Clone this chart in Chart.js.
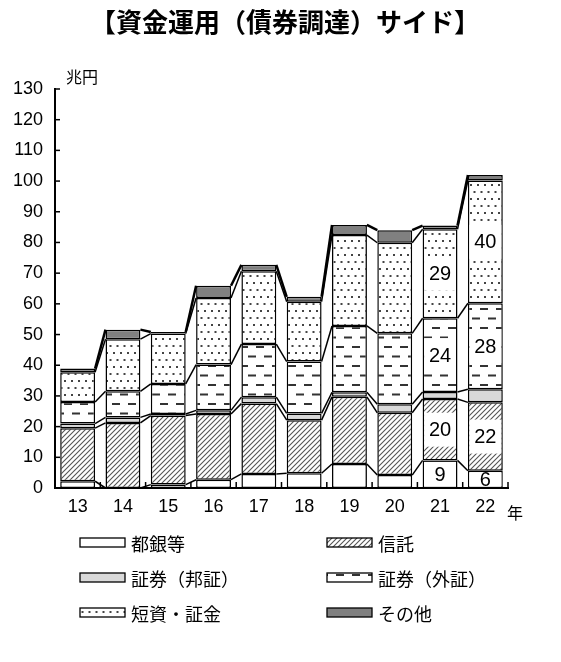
<!DOCTYPE html>
<html><head><meta charset="utf-8">
<script src="https://cdn.jsdelivr.net/npm/chart.js@4/dist/chart.umd.min.js"></script>
<style>html,body{margin:0;padding:0;background:#fff}</style>
</head><body>
<canvas id="c" width="561" height="662" style="width:561px;height:662px"></canvas>
<script>
const years = ['13','14','15','16','17','18','19','20','21','22'];
const toginTo   = [2.2, 0.0, 1.1, 2.7, 4.6, 4.8, 7.8, 4.2, 9.0, 5.6];   // 都銀等
const shintaku  = [17.3,21.2,22.5,21.4,22.9,17.3,21.9,20.3,20.0,22.3]; // 信託
const shokenHo  = [1.5, 1.8, 0.5, 1.2, 2.1, 2.2, 1.5, 2.8, 2.3, 4.3];   // 証券（邦証）
const shokenGai = [7.0, 8.5, 9.8,14.9,17.3,16.9,21.6,23.1,24.0,28.0];   // 証券（外証）
const tanshi    = [9.7,17.0,16.4,21.7,23.7,19.5,29.6,29.5,29.0,40.0];   // 短資・証金
const sonota    = [1.2, 3.1, 0.5, 4.0, 2.1, 1.6, 3.3, 4.1, 1.2, 1.8];   // その他
const seriesNames = ['都銀等','信託','証券（邦証）','証券（外証）','短資・証金','その他'];
const yTicks = [0,10,20,30,40,50,60,70,80,90,100,110,120,130];
const labeledBars = [8, 9];          // bars with value labels
const labeledSeries = [0, 1, 3, 4];  // series with value labels

function pat(type){
  const c=document.createElement('canvas');
  let w=6,h=6;
  if(type==='hatch'){w=5;h=5;}
  if(type==='dash'){w=16;h=19;}
  if(type==='dot'){w=7;h=14;}
  c.width=w;c.height=h;
  const g=c.getContext('2d');
  g.fillStyle='#fff';g.fillRect(0,0,w,h);
  if(type==='hatch'){
    g.strokeStyle='#555';g.lineWidth=1.1;
    g.beginPath();
    g.moveTo(-1,w+1);g.lineTo(w+1,-1);
    g.moveTo(-1,1);g.lineTo(1,-1);
    g.moveTo(w-1,h+1);g.lineTo(w+1,h-1);
    g.stroke();
  } else if(type==='dash'){
    g.fillStyle='#333';
    g.fillRect(0,4,8,2);
    g.fillRect(8,13.5,8,2);
  } else if(type==='dot'){
    g.fillStyle='#444';
    g.fillRect(1,2,2,2);
    g.fillRect(4.5,9,2,2);
  }
  return g.createPattern(c,'repeat');
}
const fills=['#ffffff',pat('hatch'),'#d9d9d9',pat('dash'),pat('dot'),'#808080'];
const seriesData=[toginTo,shintaku,shokenHo,shokenGai,tanshi,sonota];

const CJK='"Noto Sans CJK JP","Noto Sans",sans-serif';
const NUM='"Liberation Sans",Arial,sans-serif';

const deco={
  id:'deco',
  afterDatasetsDraw(chart){
    const {ctx,scales:{x,y},chartArea:a}=chart;
    ctx.save();
    // connecting lines
    for(let d=0;d<seriesData.length;d++){
      const meta=chart.getDatasetMeta(d);
      ctx.strokeStyle='#000';
      ctx.lineWidth=(d===seriesData.length-1)?2.5:1.5;
      for(let i=0;i<years.length-1;i++){
        const e1=meta.data[i],e2=meta.data[i+1];
        ctx.beginPath();
        ctx.moveTo(e1.x+e1.width/2,e1.y);
        ctx.lineTo(e2.x-e2.width/2,e2.y);
        ctx.stroke();
      }
    }
    // value labels
    ctx.font='20px '+NUM;ctx.textAlign='center';ctx.textBaseline='middle';
    labeledBars.forEach(i=>{
      labeledSeries.forEach(d=>{
        const e=chart.getDatasetMeta(d).data[i];
        const top=e.y,bot=e.base;
        const hgt=Math.min(34,bot-top-3);
        const mid=(top+bot)/2;
        ctx.fillStyle='#fff';
        ctx.fillRect(e.x-e.width/2+1.5,mid-hgt/2,e.width-3,hgt);
        ctx.fillStyle='#000';
        ctx.fillText(String(Math.round(seriesData[d][i])),e.x,mid+1);
      });
    });
    // inward ticks
    ctx.strokeStyle='#000';ctx.lineWidth=1.5;
    yTicks.forEach(v=>{
      const py=y.getPixelForValue(v);
      ctx.beginPath();ctx.moveTo(a.left,py);ctx.lineTo(a.left+5,py);ctx.stroke();
    });
    const step=x.getPixelForValue(1)-x.getPixelForValue(0);
    for(let i=1;i<=years.length;i++){
      const px=x.getPixelForValue(i)-step/2;
      ctx.beginPath();ctx.moveTo(px,a.bottom);ctx.lineTo(px,a.bottom-6);ctx.stroke();
    }
    ctx.restore();
  },
  afterDraw(chart){
    const {ctx,chartArea:a}=chart;
    ctx.save();
    ctx.fillStyle='#000';
    ctx.font='bold 26px '+CJK;ctx.textAlign='center';ctx.textBaseline='middle';
    ctx.fillText('【資金運用（債券調達）サイド】',285,22);
    ctx.font='16px '+CJK;ctx.textAlign='left';
    ctx.fillText('兆円',66,77);
    ctx.fillText('年',507,513);
    // legend
    const cols=[80,327],rows=[543,578,613];
    ctx.font='18px '+CJK;ctx.textBaseline='middle';
    seriesNames.forEach((n,k)=>{
      const cx=cols[k%2],cy=rows[Math.floor(k/2)];
      ctx.fillStyle=fills[k];
      ctx.fillRect(cx,cy-5,45,9);
      ctx.strokeStyle='#000';ctx.lineWidth=1.3;
      ctx.strokeRect(cx,cy-5,45,9);
      ctx.fillStyle='#000';
      ctx.fillText(n,cx+51,cy+1);
    });
    ctx.restore();
  }
};

new Chart(document.getElementById('c'),{
  type:'bar',
  data:{
    labels:years,
    datasets:seriesData.map((d,k)=>({
      label:seriesNames[k],data:d,backgroundColor:fills[k],
      borderColor:'#000',borderWidth:1.5,borderSkipped:false,
      barPercentage:0.77,categoryPercentage:1.0
    }))
  },
  options:{
    responsive:false,animation:false,devicePixelRatio:1,
    layout:{padding:{left:0,top:89,right:53,bottom:144}},
    plugins:{legend:{display:false},tooltip:{enabled:false}},
    scales:{
      x:{stacked:true,
        grid:{display:false,drawTicks:false},
        border:{display:true,color:'#000',width:2},
        ticks:{color:'#000',font:{family:NUM,size:18},padding:8,maxRotation:0},
        afterFit(s){s.height=30;}
      },
      y:{stacked:true,min:0,max:130,
        grid:{display:false,drawTicks:false},
        border:{display:true,color:'#000',width:2},
        ticks:{color:'#000',font:{family:NUM,size:18},padding:12,stepSize:10,
          callback:(v)=>yTicks.includes(v)?String(v):''},
        afterFit(s){s.width=55;}
      }
    }
  },
  plugins:[deco]
});
</script>
</body></html>
